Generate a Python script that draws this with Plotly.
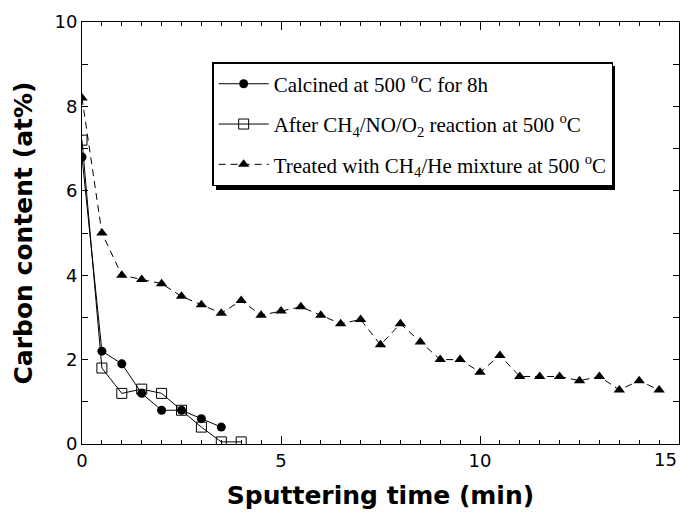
import plotly.graph_objects as go

# Data
t_calc = [0, 0.5, 1, 1.5, 2, 2.5, 3, 3.5]
c_calc = [6.8, 2.2, 1.9, 1.2, 0.8, 0.8, 0.6, 0.4]

t_after = [0, 0.5, 1, 1.5, 2, 2.5, 3, 3.5, 4]
c_after = [7.2, 1.8, 1.2, 1.3, 1.2, 0.8, 0.4, 0.05, 0.05]

t_treat = [0, 0.5, 1, 1.5, 2, 2.5, 3, 3.5, 4, 4.5, 5, 5.5, 6, 6.5, 7, 7.5, 8, 8.5,
           9, 9.5, 10, 10.5, 11, 11.5, 12, 12.5, 13, 13.5, 14, 14.5]
c_treat = [8.2, 5.0, 4.0, 3.9, 3.8, 3.5, 3.3, 3.1, 3.4, 3.05, 3.15, 3.25, 3.05, 2.85, 2.95, 2.35, 2.85, 2.42,
           2.0, 2.0, 1.7, 2.1, 1.6, 1.6, 1.6, 1.5, 1.6, 1.28, 1.5, 1.28]

x_tickvals = [0, 5, 10, 15]
x_ticktext = ["0", "5", "10", ""]   # "15" is drawn as an annotation so it stays inside the page

names = ["Calcined at 500 <sup>o</sup>C for 8h",
         "After CH<sub>4</sub>/NO/O<sub>2</sub> reaction at 500 <sup>o</sup>C",
         "Treated with CH<sub>4</sub>/He mixture at 500 <sup>o</sup>C"]

fig = go.Figure()
fig.add_trace(go.Scatter(x=t_calc, y=c_calc, name=names[0], mode="lines+markers", legendgroup="a",
                         line=dict(color="black", width=1),
                         marker=dict(symbol="circle", size=9, color="black")))
fig.add_trace(go.Scatter(x=t_after, y=c_after, name=names[1], mode="lines+markers", legendgroup="b",
                         line=dict(color="black", width=1),
                         marker=dict(symbol="square-open", size=10, color="black", line=dict(width=1))))
fig.add_trace(go.Scatter(x=t_treat, y=c_treat, name=names[2], mode="lines+markers", legendgroup="c",
                         line=dict(color="black", width=1, dash="7px,5px"),
                         marker=dict(symbol="triangle-up", size=10, color="black")))

axis_font = dict(family="DejaVu Sans", size=18, color="black")
title_font = dict(family="DejaVu Sans", size=25, color="black", weight="bold")

# legend drop shadow (thick right/bottom edge as in the reference)
fig.add_shape(type="rect", xref="paper", yref="paper",
              x0=(216 - 82) / 597, x1=(615 - 82) / 597,
              y0=(444 - 190) / 422, y1=(444 - 66) / 422,
              fillcolor="black", line=dict(width=0), layer="above")

fig.add_annotation(x=x_tickvals[-1], y=0, xref="x", yref="paper", text=str(x_tickvals[-1]),
                   xanchor="right", yanchor="top", yshift=-3, showarrow=False,
                   font=axis_font)

fig.update_layout(
    width=681, height=519,
    margin=dict(l=82, r=2, t=22, b=75),
    paper_bgcolor="white", plot_bgcolor="white",
    showlegend=True,
    legend=dict(x=0.218, y=0.905, xanchor="left", yanchor="top",
                bgcolor="white", bordercolor="black", borderwidth=1.5,
                font=dict(family="Liberation Serif", size=21, color="black"),
                itemwidth=50,
                traceorder="grouped", tracegroupgap=10),
    xaxis=dict(range=[0, 15], tickvals=x_tickvals, ticktext=x_ticktext,
               ticks="inside", ticklen=8, tickcolor="black",
               showline=True, linecolor="black", linewidth=1, mirror="ticks",
               showgrid=False, zeroline=False, tickfont=axis_font,
               automargin=False,
               minor=dict(dtick=0.5, ticks="inside", ticklen=4, tickcolor="black"),
               title=dict(text="Sputtering time (min)", font=title_font, standoff=16)),
    yaxis=dict(range=[0, 10], dtick=2, ticks="inside", ticklen=6, tickcolor="black",
               showline=True, linecolor="black", linewidth=1, mirror="ticks",
               showgrid=False, zeroline=False, tickfont=axis_font, ticklabeloverflow="allow",
               automargin=False,
               minor=dict(dtick=1, ticks="inside", ticklen=6, tickcolor="black"),
               title=dict(text="Carbon content (at%)", font=title_font, standoff=14)),
)

fig.write_html("out.html")
